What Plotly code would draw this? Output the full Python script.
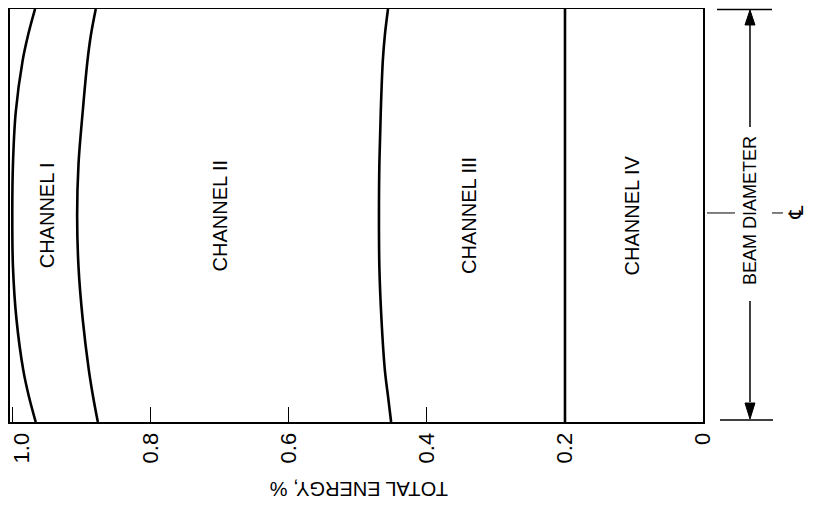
import plotly.graph_objects as go

# Beam position across the diameter (normalized, +1 = top edge, -1 = bottom edge)
beam_pos = [1.0, 0.875, 0.75, 0.5, 0.25, 0.0, -0.25, -0.5, -0.75, -0.875, -1.0]

# Cumulative total energy fraction at each channel boundary
ch1_boundary = [0.968, 0.978, 0.986, 0.996, 1.0, 1.001, 1.0, 0.995, 0.985, 0.977, 0.967]
ch2_boundary = [0.880, 0.887, 0.892, 0.899, 0.905, 0.907, 0.905, 0.899, 0.890, 0.884, 0.877]
ch3_boundary = [0.4565, 0.461, 0.464, 0.467, 0.469, 0.4696, 0.469, 0.466, 0.461, 0.4565, 0.452]
ch4_boundary = [0.2] * len(beam_pos)

channel_names = ["CHANNEL I", "CHANNEL II", "CHANNEL III", "CHANNEL IV"]
channel_label_x = [0.951, 0.70, 0.34, 0.103]

tick_vals = [1.0, 0.8, 0.6, 0.4, 0.2, 0]
tick_text = ["", "0.8", "0.6", "0.4", "0.2", "0"]
edge_tick_value = 1.0
edge_tick_text = "1.0"

fig = go.Figure()
for b in [ch1_boundary, ch2_boundary, ch3_boundary, ch4_boundary]:
    fig.add_trace(go.Scatter(x=b, y=beam_pos, mode="lines",
                             line=dict(color="black", width=2.6, shape="spline"),
                             showlegend=False, hoverinfo="skip"))

fig.update_layout(
    width=815, height=520,
    margin=dict(l=2, r=120, t=1, b=106),
    paper_bgcolor="white", plot_bgcolor="white",
    showlegend=False,
    font=dict(family="Liberation Sans", color="black"),
)
fig.update_xaxes(range=[1.0043, 0], showgrid=False, zeroline=False, automargin=False,
                 showline=True, linecolor="black", linewidth=2, mirror=True,
                 ticks="inside", ticklen=15, tickwidth=1, tickcolor="black",
                 tickvals=tick_vals, ticktext=tick_text, tickangle=-90,
                 ticklabeloverflow="allow",
                 tickfont=dict(family="Liberation Sans", size=22, color="black"))
fig.update_yaxes(range=[-1, 1], showgrid=False, zeroline=False, automargin=False,
                 showline=True, linecolor="black", linewidth=2, mirror=True,
                 showticklabels=False, ticks="")

# the 1.0 label sits at the frame edge, nudged inward as in the original
fig.add_annotation(x=edge_tick_value, y=0, xref="x", yref="paper", text=edge_tick_text,
                   showarrow=False, textangle=-90, xshift=9, yshift=-8,
                   xanchor="center", yanchor="top",
                   font=dict(size=22, family="Liberation Sans"))

for name, lx in zip(channel_names, channel_label_x):
    fig.add_annotation(x=lx, y=0, xref="x", yref="y", text=name, showarrow=False,
                       textangle=-90, xanchor="center", yanchor="middle",
                       font=dict(size=20, family="Liberation Sans"))

fig.add_annotation(x=0.5036, y=-0.1622, xref="paper", yref="paper",
                   text="TOTAL ENERGY, %", showarrow=False, textangle=180,
                   xanchor="center", yanchor="middle",
                   font=dict(size=20, family="Liberation Sans"))

# Beam-diameter dimension marker in the right margin
line_style = dict(color="black", width=1.5)
fig.add_shape(type="line", xref="paper", yref="paper", x0=1.0202, x1=1.0996, y0=0.999, y1=0.999, line=line_style)
fig.add_shape(type="line", xref="paper", yref="paper", x0=1.0245, x1=1.1010, y0=0.0048, y1=0.0048, line=line_style)
fig.add_shape(type="line", xref="paper", yref="paper", x0=1.0678, x1=1.0678, y0=0.9613, y1=0.7143, line=line_style)
fig.add_shape(type="line", xref="paper", yref="paper", x0=1.0678, x1=1.0678, y0=0.2930, y1=0.0484, line=line_style)
fig.add_shape(type="path", xref="paper", yref="paper",
              path="M 1.0678 0.9976 L 1.0606 0.9613 L 1.0750 0.9613 Z",
              fillcolor="black", line=dict(color="black", width=1))
fig.add_shape(type="path", xref="paper", yref="paper",
              path="M 1.0678 0.0073 L 1.0606 0.0460 L 1.0750 0.0460 Z",
              fillcolor="black", line=dict(color="black", width=1))
fig.add_shape(type="line", xref="paper", yref="paper", x0=1.0058, x1=1.0462, y0=0.5061, y1=0.5061, line=dict(color="black", width=1))
fig.add_shape(type="line", xref="paper", yref="paper", x0=1.0996, x1=1.1154, y0=0.5061, y1=0.5061, line=dict(color="black", width=1))
fig.add_annotation(x=1.0678, y=0.5133, xref="paper", yref="paper", text="BEAM DIAMETER",
                   showarrow=False, textangle=-90, xanchor="center", yanchor="middle",
                   font=dict(size=18, family="Liberation Sans"))
fig.add_annotation(x=1.134, y=0.5061, xref="paper", yref="paper", text="\u2104",
                   showarrow=False, textangle=-90, xanchor="center", yanchor="middle",
                   font=dict(size=20, family="DejaVu Sans"))

fig.write_html("out.html")
